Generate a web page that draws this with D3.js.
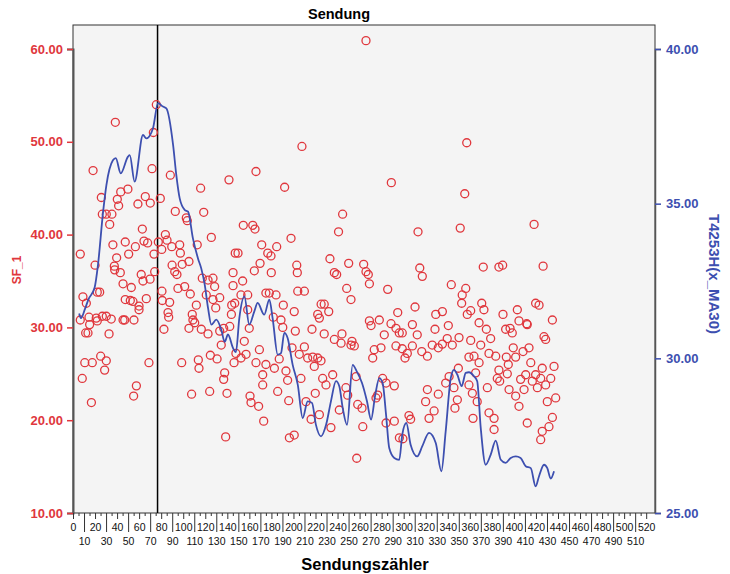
<!DOCTYPE html>
<html>
<head>
<meta charset="utf-8">
<script src="https://cdn.jsdelivr.net/npm/d3@7"></script>
<style>
  body { margin: 0; background: #fff; }
  text { font-family: "Liberation Sans", Arial, sans-serif; }
</style>
</head>
<body>
<div id="chart"></div>
<script>
// SF_1 values per Sendungszähler as [zähler, SF_1]
const sf1Points = [
  [38.4,52.1],[75.6,54.0],[72.9,51.0],[18.2,46.9],[71.7,47.1],[88.3,46.4],[141.5,45.9],[115.8,45.0],[25.7,44.0],[43.3,44.6],
  [49.8,44.9],[40.2,43.8],[41.4,43.1],[65.6,44.1],[58.9,43.3],[70.1,43.4],[79.2,43.9],[26.6,42.2],[30.2,42.2],[35.3,42.2],
  [33.3,41.1],[92.8,42.5],[118.6,42.4],[102.8,41.8],[103.7,41.5],[62.9,40.6],[83.8,40.0],[125.5,39.7],[36.2,38.9],[47.4,39.2],
  [56.6,38.7],[64.4,39.3],[67.7,39.1],[77.4,39.2],[80.5,38.4],[85.3,39.4],[89.6,38.7],[96.8,38.9],[97.4,38.0],[112.7,38.9],
  [6.6,37.9],[39.6,37.5],[50.5,37.9],[73.5,37.9],[20.0,36.7],[37.5,36.6],[89.9,36.7],[99.1,36.8],[105.2,37.1],[147.2,38.0],
  [37.8,36.2],[42.9,35.9],[61.9,35.7],[63.5,35.0],[69.9,35.2],[74.1,36.0],[45.4,34.7],[52.9,34.3],[22.0,33.8],[24.2,33.8],
  [9.0,33.3],[12.1,32.6],[47.4,33.0],[52.0,32.9],[54.4,32.8],[59.9,32.3],[59.9,31.9],[66.5,33.1],[6.6,30.8],[14.5,31.1],
  [15.1,30.3],[22.0,30.7],[21.1,31.0],[26.6,31.2],[30.2,31.2],[34.7,30.9],[11.5,29.4],[13.6,29.4],[32.7,29.3],[45.4,30.8],
  [46.9,30.8],[55.3,30.8],[10.7,26.2],[17.5,26.2],[25.1,26.9],[30.2,26.4],[28.7,25.4],[8.4,24.5],[16.7,21.9],[57.5,23.7],
  [55.0,22.6],[68.9,26.2],[80.7,33.9],[81.0,32.9],[87.7,32.7],[86.2,31.6],[86.8,31.1],[82.5,29.8],[92.3,36.0],[94.3,35.7],
  [95.2,34.2],[101.3,34.4],[106.4,33.6],[111.9,32.4],[108.2,31.4],[108.8,30.8],[110.4,30.5],[105.2,29.9],[116.4,29.8],[122.5,29.3],
  [117.3,35.3],[122.5,35.1],[127.0,35.3],[128.5,34.4],[120.9,33.5],[127.0,33.0],[133.1,33.2],[129.5,32.1],[144.0,32.4],[146.7,32.6],
  [145.2,34.5],[145.2,35.9],[143.7,31.4],[142.2,30.1],[136.7,29.9],[133.1,29.6],[134.5,28.1],[146.1,26.2],[98.6,26.2],[113.7,26.5],
  [114.3,25.6],[124.6,27.0],[130.7,26.6],[137.6,25.1],[136.7,24.4],[107.6,22.8],[124.0,23.1],[139.7,22.9],[138.5,18.2],
  [265.8,60.9],[207.7,49.5],[166.0,46.8],[192.0,45.1],[288.8,45.6],[244.6,42.2],[240.9,40.3],[154.5,41.0],[163.1,41.0],[165.1,40.6],
  [197.8,39.6],[171.2,38.9],[184.8,38.7],[176.7,38.0],[179.6,37.7],[149.7,38.0],[233.1,37.4],[250.1,36.9],[263.7,36.8],[169.7,36.9],
  [203.0,36.7],
  [164.5,36.1],[179.9,35.9],[203.5,35.9],[237.1,35.9],[239.2,35.7],[265.8,36.0],[267.9,35.7],[268.9,34.7],[248.3,34.2],[252.2,33.0],
  [203.9,33.9],[209.9,33.9],[285.5,34.1],[153.9,35.0],[152.4,33.5],[158.5,33.5],[175.0,33.7],[178.1,33.7],[184.2,33.5],[158.5,31.9],
  [190.8,32.4],[200.7,31.7],[181.7,31.1],[188.7,30.8],[190.3,30.0],[159.9,29.9],[225.1,32.5],[227.9,32.5],[232.0,31.7],[222.0,31.4],
  [223.5,31.0],[268.9,30.7],[270.4,30.2],[277.9,30.8],[294.6,31.6],[201.7,29.6],[216.8,29.8],[227.9,29.3],[244.0,29.3],[253.1,28.5],
  [237.1,28.7],[243.2,28.3],[252.2,28.1],[255.2,28.0],[288.5,30.4],[293.0,29.9],[296.0,29.4],[282.4,29.2],[273.3,27.6],[279.4,27.8],
  [271.9,26.7],[293.0,28.0],[155.4,28.5],[147.8,27.2],[152.4,26.7],[157.0,27.1],[169.1,27.6],[166.0,26.2],[175.0,26.0],[182.7,25.6],
  [172.1,24.9],[172.1,23.8],[187.1,26.6],[193.2,25.3],[194.7,24.3],[198.7,27.8],[205.3,27.1],[209.9,27.9],[212.9,26.7],[217.5,26.8],
  [222.0,26.7],[225.0,26.4],[218.9,25.8],[206.8,24.5],[226.5,24.5],[235.6,24.9],[229.5,23.8],[185.7,23.1],[195.7,22.1],[160.6,22.6],
  [161.5,21.9],[168.4,21.5],[173.0,19.9],[196.3,18.1],[200.7,18.4],[211.4,22.0],[219.8,22.9],[223.5,20.6],[216.0,20.1],[234.0,19.2],
  [241.6,21.1],[247.6,23.5],[249.2,22.7],[256.8,24.7],[258.3,21.7],[262.2,21.3],[262.9,19.3],[257.4,15.9],[274.9,22.4],[276.4,22.7],
  [284.0,19.7],[291.5,19.9],[280.9,24.5],[284.0,24.0],[291.5,23.7],[296.1,18.1],
  [357.2,49.9],[355.4,44.4],[313.0,40.3],[351.3,40.7],[418.3,41.1],[314.6,36.4],[372.2,36.5],[386.4,36.5],[389.8,36.7],[426.5,36.6],
  [316.9,35.5],[343.2,34.6],[353.1,33.5],[356.3,34.2],[352.6,32.6],[370.8,32.6],[372.8,31.9],[360.8,31.8],[357.7,31.4],[419.7,32.6],
  [422.8,32.4],[434.9,30.8],[310.3,32.2],[329.1,31.4],[335.1,31.7],[340.5,30.2],[390.1,31.4],[403.1,31.9],[404.6,30.7],[412.1,30.3],
  [298.7,29.4],[307.9,30.3],[312.3,29.2],[328.4,29.8],[368.4,30.5],[375.0,29.8],[392.5,29.8],[396.5,29.9],[398.5,29.4],[411.6,30.4],
  [427.3,29.0],[428.8,28.7],[298.7,27.7],[301.2,26.7],[303.3,27.2],[307.9,28.0],[316.4,27.4],[321.5,26.9],[325.9,28.1],[331.4,27.8],
  [335.1,28.2],[339.5,28.8],[344.1,28.1],[350.2,28.9],[360.8,28.6],[369.9,28.1],[378.9,28.8],[377.4,27.2],[383.5,26.9],[393.1,26.8],
  [399.4,27.8],[401.6,26.8],[408.3,27.4],[413.7,27.8],[415.3,26.2],[425.7,25.6],[436.4,25.8],[433.4,24.5],[428.8,23.8],[424.3,24.5],
  [419.7,24.9],[416.7,24.2],[421.3,23.5],[410.7,24.9],[406.1,24.4],[394.9,26.0],[394.0,25.0],[386.4,25.4],[384.9,24.5],[387.1,24.2],
  [375.9,23.5],[365.3,25.1],[363.8,26.9],[368.4,26.2],[359.2,26.8],[349.6,25.6],[341.2,24.7],[338.1,24.0],[345.6,23.5],[331.4,22.8],
  [321.5,23.3],[319.9,22.0],[327.6,21.0],[323.0,20.2],[304.8,20.5],[306.3,20.1],[299.3,18.0],[348.7,22.2],[346.5,21.3],[359.2,23.8],
  [362.3,22.9],[366.7,22.0],[362.9,20.2],[377.4,20.8],[382.0,20.2],[382.0,19.0],[412.1,19.7],[434.9,20.3],[431.8,19.3],[425.7,18.8],
  [424.3,17.9],[437.9,22.4],[430.3,22.0],[404.6,21.5],[401.6,22.6],[395.6,23.3],[409.2,23.3]
];

// smoothed series T4253H(x_MA30) as [zähler, value]
const trendPoints = [
  [5.6,31.45],[7.2,31.3],[10.9,31.6],[13.9,31.9],[19.7,32.3],[22.6,33.0],[27.2,34.7],[30.3,35.6],[36.2,36.4],[38.8,36.47],
  [43.3,35.98],[49.9,36.52],[51.5,36.57],[55.9,35.71],[63.5,37.22],[66.5,37.11],[72.6,37.44],[77.1,38.25],[81.6,38.14],[84.7,38.08],
  [90.8,36.9],[93.7,35.93],[96.8,35.17],[101.3,34.8],[104.4,34.74],[108.8,33.88],[113.4,33.23],[116.4,32.9],[119.5,32.38],[122.5,31.63],
  [125.5,31.09],[130.0,31.25],[134.5,30.93],[137.6,30.53],[140.6,30.77],[145.2,30.33],[147.8,30.2],[150.9,31.3],[155.5,32.0],[159.9,31.09],
  [164.5,31.52],[167.5,31.79],[173.5,31.41],[178.1,31.9],[181.1,31.3],[185.7,30.12],[188.7,30.17],[191.7,30.82],[194.7,30.66],[199.3,29.79],
  [203.9,29.15],[208.4,28.07],[212.9,28.61],[216.8,28.56],[220.4,27.85],[225.0,27.48],[229.6,27.85],[234.0,28.61],[238.6,29.26],[241.6,29.1],
  [244.7,28.39],[248.6,27.85],[253.7,29.79],[257.4,29.58],[262.2,29.2],[266.7,28.61],[270.4,28.02],[274.2,28.82],[277.9,29.36],[280.9,29.2],
  [284.0,28.18],[286.9,27.1],[291.5,26.78],[296.0,26.72],[298.7,27.53],[302.4,27.91],[306.3,27.21],[312.3,26.83],[316.9,27.16],[323.0,27.59],
  [329.1,27.26],[334.2,26.35],[338.1,27.64],[342.7,29.36],[345.6,29.63],[348.7,29.47],[352.6,29.1],[356.3,29.53],[359.2,29.55],[363.8,29.42],
  [366.7,29.26],[369.9,27.75],[374.4,26.56],[378.9,26.88],[383.5,27.34],[388.1,26.72],[392.5,26.62],[397.1,26.78],[401.7,26.83],[406.1,26.78],
  [410.7,26.51],[415.3,26.45],[419.7,25.86],[422.8,26.19],[427.3,26.56],[430.3,26.45],[433.4,26.11],[436.4,26.35]
];

const leftTicks = [10, 20, 30, 40, 50, 60];
const rightTicks = [25, 30, 35, 40];
const xMinorTicks = d3.range(0, 521, 5);
const xEvenLabels = d3.range(0, 521, 20);
const xOddLabels = d3.range(10, 520, 20);
const refLineX = 76.7; // vertical reference line

const red = "#e0373d";
const blue = "#3d4fb0";

const width = 730;
const height = 574;
const margin = { top: 25, right: 75, bottom: 61, left: 73 };
const innerWidth = width - margin.left - margin.right;
const innerHeight = height - margin.top - margin.bottom;

const svg = d3.select("#chart")
  .append("svg")
  .attr("width", width)
  .attr("height", height);

const g = svg.append("g")
  .attr("transform", `translate(${margin.left}, ${margin.top})`);

// scales (frame runs a bit past the last label, 520)
const x = d3.scaleLinear().domain([0, 528]).range([0, innerWidth]);
const yLeft = d3.scaleLinear().domain([10, 60]).range([innerHeight, 24]);
const yRight = d3.scaleLinear().domain([25, 40]).range([innerHeight, 24]);

// plot background
g.append("rect")
  .attr("width", innerWidth)
  .attr("height", innerHeight)
  .attr("fill", "#f4f4f4")
  .attr("stroke", "#333")
  .attr("stroke-width", 1);

// reference line
g.append("line")
  .attr("x1", x(refLineX)).attr("x2", x(refLineX))
  .attr("y1", 0).attr("y2", innerHeight)
  .attr("stroke", "#000")
  .attr("stroke-width", 1.5);

// scatter
g.append("g")
  .selectAll("circle")
  .data(sf1Points)
  .enter().append("circle")
    .attr("cx", d => x(d[0]))
    .attr("cy", d => yLeft(d[1]))
    .attr("r", 4)
    .attr("fill", "none")
    .attr("stroke", red)
    .attr("stroke-width", 1.3);

// smoothed line
const line = d3.line()
  .x(d => x(d[0]))
  .y(d => yRight(d[1]))
  .curve(d3.curveMonotoneX);

g.append("path")
  .datum(trendPoints)
  .attr("fill", "none")
  .attr("stroke", blue)
  .attr("stroke-width", 1.8)
  .attr("d", line);

// left axis
const leftAxis = g.append("g")
  .call(d3.axisLeft(yLeft).tickValues(leftTicks).tickFormat(d3.format(".2f")).tickSize(6).tickPadding(4));
leftAxis.select(".domain").attr("stroke", "#555").attr("stroke-width", 2);
leftAxis.selectAll("line").attr("stroke", red).attr("stroke-width", 1.5);
leftAxis.selectAll("text")
  .attr("fill", red)
  .style("font-size", "13px")
  .style("font-weight", "bold");

// right axis
const rightAxis = g.append("g")
  .attr("transform", `translate(${innerWidth}, 0)`)
  .call(d3.axisRight(yRight).tickValues(rightTicks).tickFormat(d3.format(".2f")).tickSize(6).tickPadding(5));
rightAxis.select(".domain").attr("stroke", "#555").attr("stroke-width", 1.5);
rightAxis.selectAll("line").attr("stroke", blue).attr("stroke-width", 1.5);
rightAxis.selectAll("text")
  .attr("fill", blue)
  .style("font-size", "13px")
  .style("font-weight", "bold");

// bottom axis: short ticks every 5, longer every 10, odd tens run down to the second label row
const bottom = g.append("g").attr("transform", `translate(0, ${innerHeight})`);
bottom.call(d3.axisBottom(x).tickValues(xMinorTicks).tickFormat("").tickSizeOuter(0).tickSizeInner(3));
bottom.selectAll(".tick text").remove();
bottom.selectAll(".tick line")
  .attr("y2", d => d % 20 === 10 ? 19 : (d % 10 === 0 ? 6 : 3))
  .attr("stroke", "#333");
bottom.select(".domain").remove();

// staggered labels
const evenAxis = g.append("g").attr("transform", `translate(0, ${innerHeight})`)
  .call(d3.axisBottom(x).tickValues(xEvenLabels).tickSize(0).tickPadding(10.5));
evenAxis.select(".domain").remove();
evenAxis.selectAll("text").style("font-size", "10.5px").attr("fill", "#111");

const oddAxis = g.append("g").attr("transform", `translate(0, ${innerHeight})`)
  .call(d3.axisBottom(x).tickValues(xOddLabels).tickSize(0).tickPadding(25));
oddAxis.select(".domain").remove();
oddAxis.selectAll("text").style("font-size", "10.5px").attr("fill", "#111");

// titles
svg.append("text")
  .attr("x", 339).attr("y", 19)
  .attr("text-anchor", "middle")
  .style("font-size", "14.5px").style("font-weight", "bold")
  .text("Sendung");

svg.append("text")
  .attr("x", 365).attr("y", 570)
  .attr("text-anchor", "middle")
  .style("font-size", "16.5px").style("font-weight", "bold")
  .text("Sendungszähler");

svg.append("text")
  .attr("transform", "translate(21, 270) rotate(-90)")
  .attr("text-anchor", "middle")
  .attr("fill", red)
  .style("font-size", "12px").style("font-weight", "bold")
  .text("SF_1");

svg.append("text")
  .attr("transform", "translate(709, 274) rotate(90)")
  .attr("text-anchor", "middle")
  .attr("fill", blue)
  .style("font-size", "15px").style("font-weight", "bold")
  .text("T4253H(x_MA30)");
</script>
</body>
</html>
